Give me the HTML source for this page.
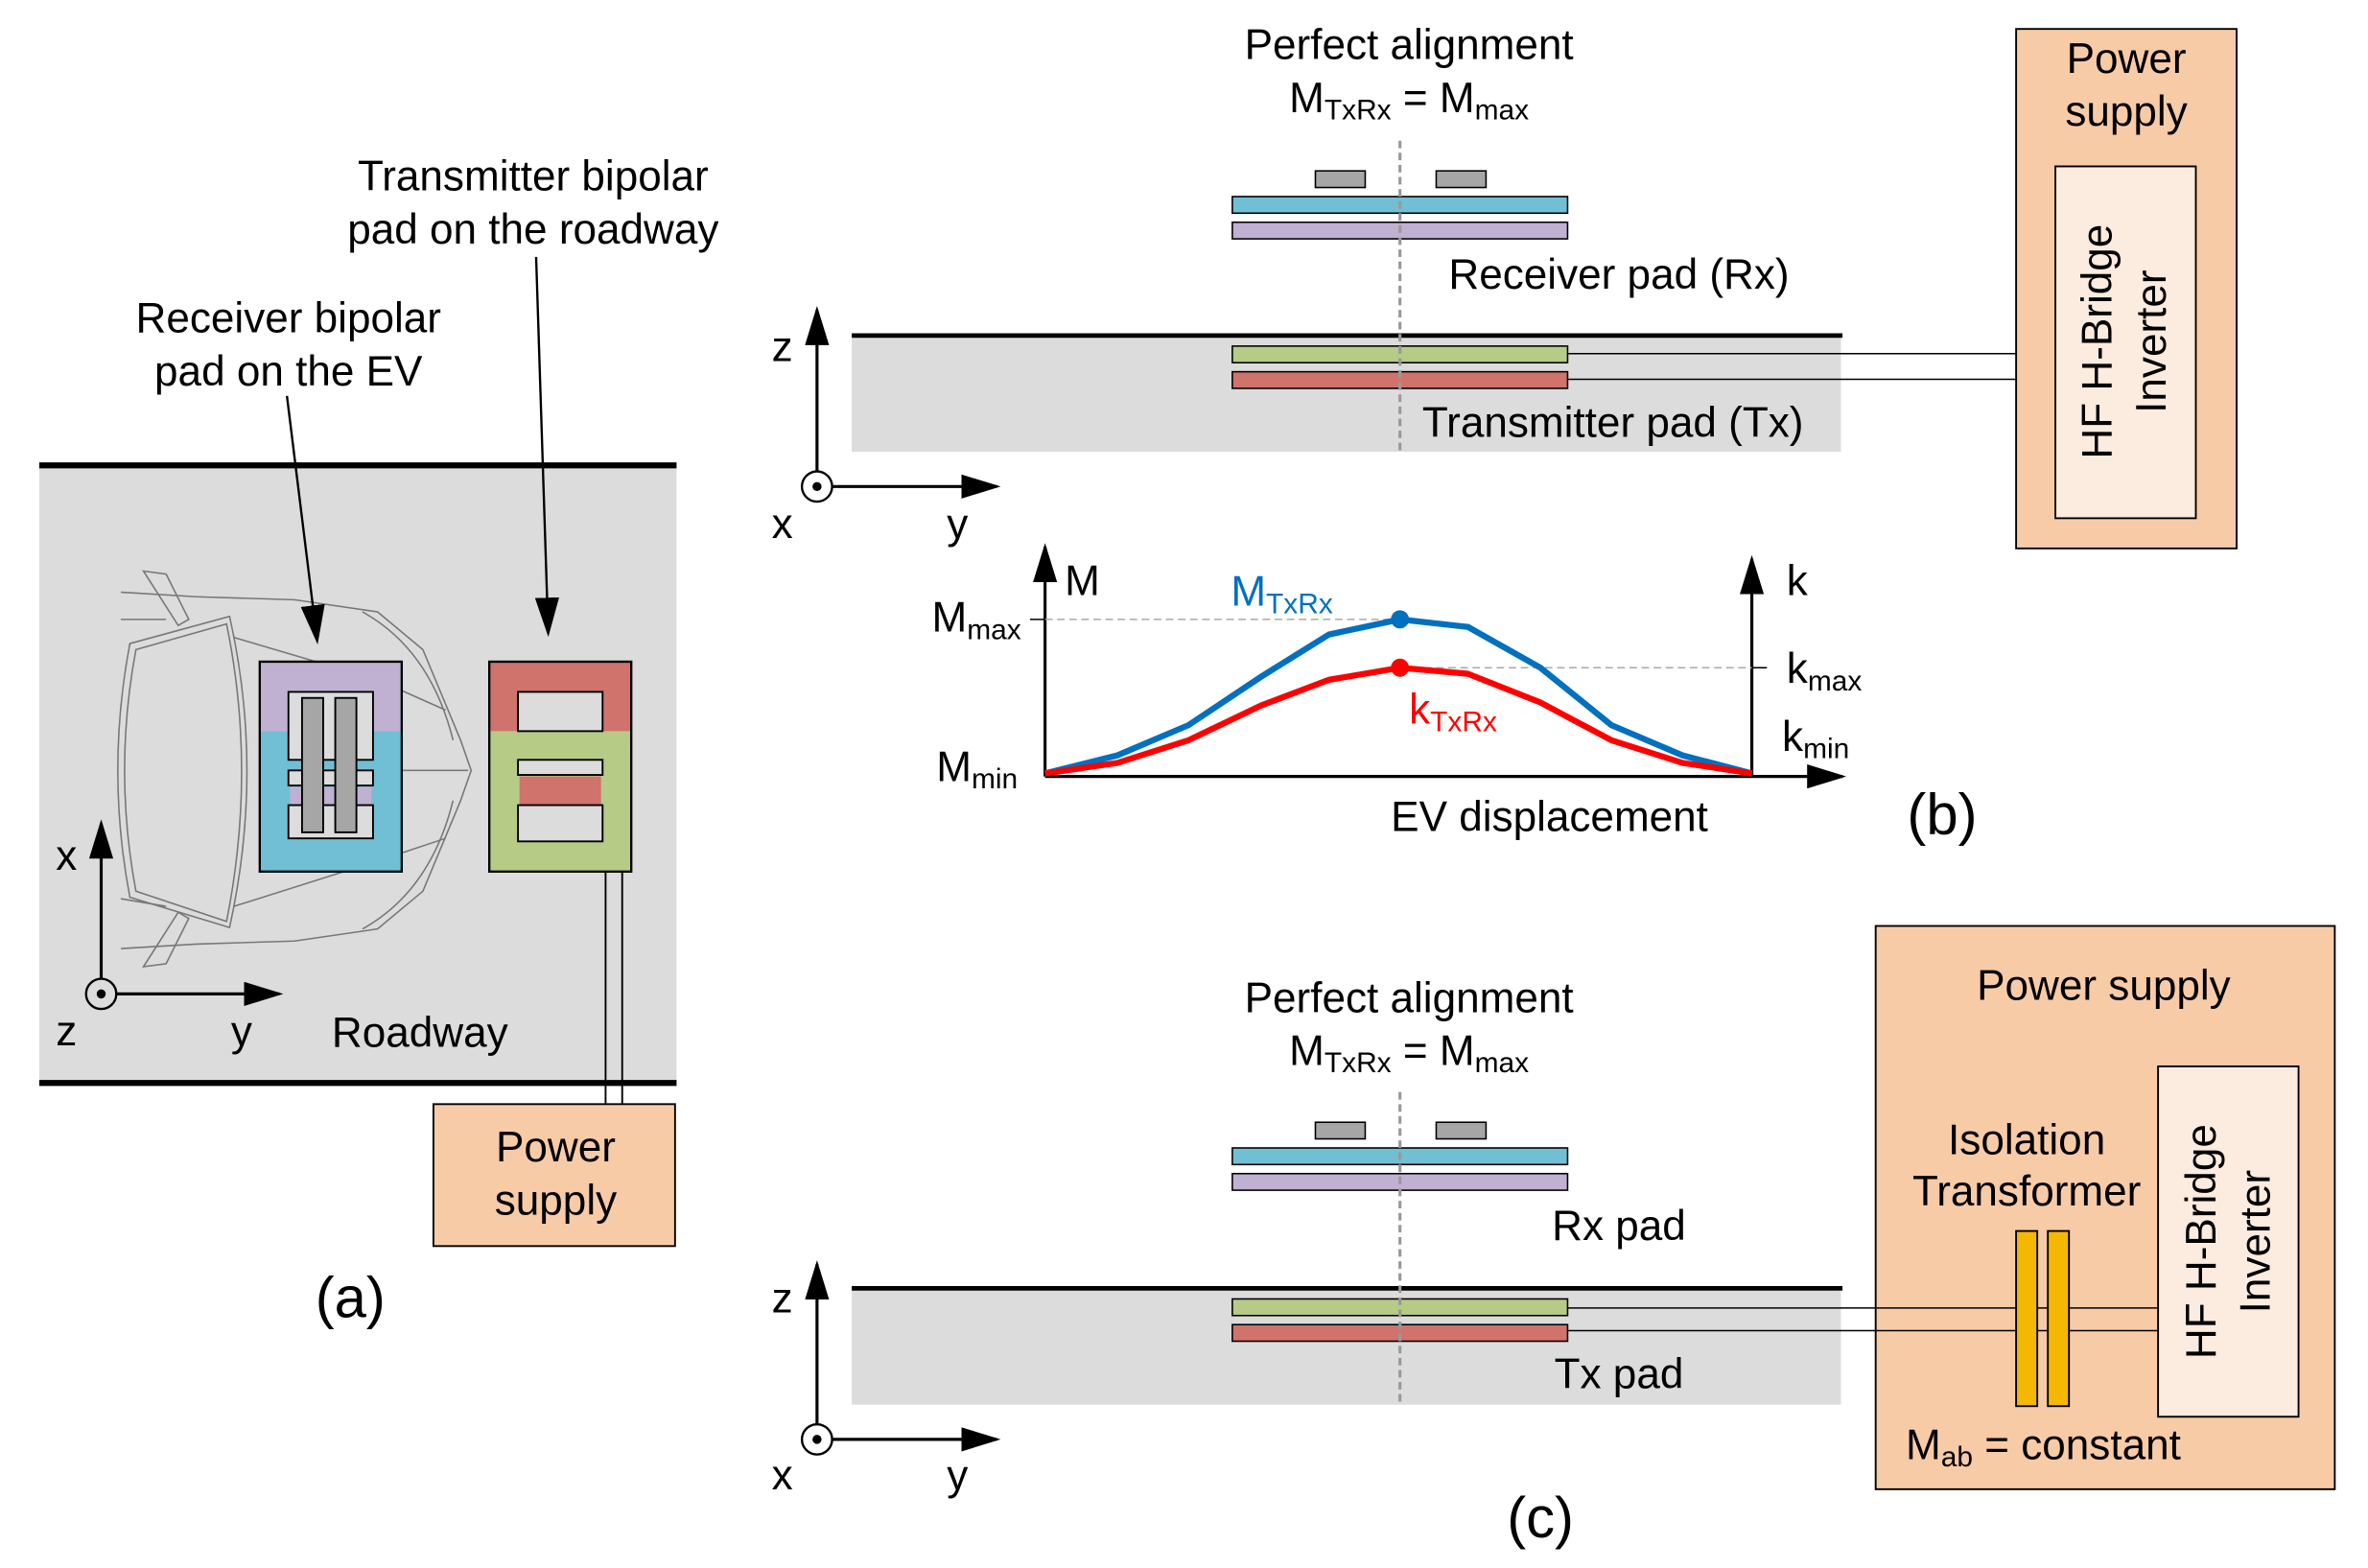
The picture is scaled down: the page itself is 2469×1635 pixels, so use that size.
<!DOCTYPE html>
<html><head><meta charset="utf-8"><style>html,body{margin:0;padding:0;background:#fff}svg{display:block}text{font-family:"Liberation Sans",sans-serif;fill:#000}</style></head><body>
<svg width="2469" height="1635" viewBox="0 0 1568 1038" xmlns="http://www.w3.org/2000/svg">
<defs>
<marker id="ab" viewBox="0 0 10 10" refX="9" refY="5" markerWidth="26" markerHeight="16" orient="auto" markerUnits="userSpaceOnUse" preserveAspectRatio="none"><path d="M0,0L10,5L0,10z"/></marker></defs>
<g font-size="28">
<!-- Panel a -->
<rect x="26" y="308" width="422" height="409" fill="#dcdcdc"/>
<line x1="26" y1="308" x2="448" y2="308" stroke="#000" stroke-width="4"/>
<line x1="26" y1="717" x2="448" y2="717" stroke="#000" stroke-width="4"/>
<g fill="none" stroke="#777" stroke-width="1">
<path d="M80,392 L130,395 L195,397 L250,405 L280,430 L305,490 L312,510 L305,530 L280,590 L250,615 L195,623 L130,625 L80,628"/>
<path d="M90,430 L150,413 Q170,510 150,610 L90,590 Q75,510 90,430Z"/>
<path d="M86,426 L152,408 Q175,510 152,614 L86,594 Q70,510 86,426Z"/>
<path d="M95,378 L110,380 L125,410 L118,414 Z M95,640 L110,638 L125,608 L118,604 Z"/>
<path d="M80,410 L110,410 M80,595 L110,600 M155,422 L250,450 L295,470 M155,600 L250,570 L295,555 M266,510 L310,510"/>
<path d="M240,405 Q285,430 300,490 M240,615 Q285,590 300,530"/>
</g>
<line x1="190" y1="262" x2="210" y2="424" stroke="#000" stroke-width="1.5" marker-end="url(#ab)"/>
<line x1="355" y1="170" x2="363" y2="419" stroke="#000" stroke-width="1.5" marker-end="url(#ab)"/>
<rect x="172" y="484" width="94" height="93" fill="#70bfd4"/>
<rect x="172" y="438" width="94" height="46" fill="#c0b0d2"/>
<rect x="172" y="438" width="94" height="139" fill="none" stroke="#000" stroke-width="1.5"/>
<rect x="191" y="458" width="56" height="45" fill="#dcdcdc" stroke="#000" stroke-width="1.2"/>
<rect x="191" y="510" width="56" height="10" fill="#dcdcdc" stroke="#000" stroke-width="1.2"/>
<rect x="192" y="521" width="54" height="12" fill="#c0b0d2"/>
<rect x="191" y="533" width="56" height="22" fill="#dcdcdc" stroke="#000" stroke-width="1.2"/>
<rect x="200" y="462" width="14" height="89" fill="#a6a6a6" stroke="#000" stroke-width="1.2"/>
<rect x="222" y="462" width="14" height="89" fill="#a6a6a6" stroke="#000" stroke-width="1.2"/>
<rect x="324" y="484" width="94" height="93" fill="#b6cb86"/>
<rect x="324" y="438" width="94" height="46" fill="#cf736c"/>
<rect x="324" y="438" width="94" height="139" fill="none" stroke="#000" stroke-width="1.5"/>
<rect x="343" y="458" width="56" height="26" fill="#dcdcdc" stroke="#000" stroke-width="1.2"/>
<rect x="343" y="503" width="56" height="10" fill="#dcdcdc" stroke="#000" stroke-width="1.2"/>
<rect x="344" y="514" width="54" height="19" fill="#cf736c"/>
<rect x="343" y="533" width="56" height="24" fill="#dcdcdc" stroke="#000" stroke-width="1.2"/>
<line x1="401" y1="577" x2="401" y2="731" stroke="#000" stroke-width="1.2"/>
<line x1="412" y1="577" x2="412" y2="731" stroke="#000" stroke-width="1.2"/>
<rect x="287" y="731" width="160" height="94" fill="#f8cba7" stroke="#000" stroke-width="1.2"/>
<text x="368" y="769" text-anchor="middle">Power</text><text x="368" y="804" text-anchor="middle">supply</text>
<circle cx="67" cy="658" r="10" fill="none" stroke="#000" stroke-width="1.5"/><circle cx="67" cy="658" r="3"/>
<line x1="67" y1="648" x2="67" y2="545" stroke="#000" stroke-width="2" marker-end="url(#ab)"/>
<line x1="77" y1="658" x2="185" y2="658" stroke="#000" stroke-width="2" marker-end="url(#ab)"/>
<text x="44" y="576" text-anchor="middle">x</text><text x="44" y="692" text-anchor="middle">z</text><text x="160" y="692" text-anchor="middle">y</text>
<text x="278" y="693" text-anchor="middle">Roadway</text>
<text x="353" y="126" text-anchor="middle">Transmitter bipolar</text><text x="353" y="161" text-anchor="middle">pad on the roadway</text>
<text x="191" y="220" text-anchor="middle">Receiver bipolar</text><text x="191" y="255" text-anchor="middle">pad on the EV</text>
<text x="232" y="872" text-anchor="middle" font-size="38">(a)</text>

<!-- Panel b -->
<text x="933" y="39" text-anchor="middle">Perfect alignment</text>
<text x="933" y="74" text-anchor="middle">M<tspan font-size="19" dy="5">TxRx</tspan><tspan dy="-5"> = M</tspan><tspan font-size="19" dy="5">max</tspan></text>
<rect x="871" y="113" width="33" height="11" fill="#a6a6a6" stroke="#000"/><rect x="951" y="113" width="33" height="11" fill="#a6a6a6" stroke="#000"/>
<rect x="816" y="130" width="222" height="11" fill="#70bfd4" stroke="#000"/><rect x="816" y="147" width="222" height="11" fill="#c0b0d2" stroke="#000"/>
<text x="1072" y="191" text-anchor="middle">Receiver pad (Rx)</text>
<rect x="564" y="222" width="655" height="77" fill="#dcdcdc"/>
<line x1="564" y1="222" x2="1220" y2="222" stroke="#000" stroke-width="3"/>
<rect x="816" y="229" width="222" height="11" fill="#b6cb86" stroke="#000"/><rect x="816" y="246" width="222" height="11" fill="#cf736c" stroke="#000"/>
<line x1="1038" y1="234" x2="1361" y2="234" stroke="#000"/><line x1="1038" y1="251" x2="1361" y2="251" stroke="#000"/>
<text x="1068" y="289" text-anchor="middle">Transmitter pad (Tx)</text>
<line x1="927" y1="93" x2="927" y2="299" stroke="#999" stroke-width="2" stroke-dasharray="5,3"/>
<circle cx="541" cy="322" r="10" fill="none" stroke="#000" stroke-width="1.5"/><circle cx="541" cy="322" r="3"/>
<line x1="541" y1="312" x2="541" y2="205" stroke="#000" stroke-width="2" marker-end="url(#ab)"/>
<line x1="551" y1="322" x2="660" y2="322" stroke="#000" stroke-width="2" marker-end="url(#ab)"/>
<text x="518" y="239" text-anchor="middle">z</text><text x="518" y="356" text-anchor="middle">x</text><text x="634" y="356" text-anchor="middle">y</text>
<rect x="1335" y="19" width="146" height="344" fill="#f8cba7" stroke="#000" stroke-width="1.2"/>
<rect x="1361" y="110" width="93" height="233" fill="#fcebdf" stroke="#000" stroke-width="1.2"/>
<text x="1408" y="48" text-anchor="middle">Power</text><text x="1408" y="83" text-anchor="middle">supply</text>
<text transform="translate(1398,226) rotate(-90)" text-anchor="middle">HF H-Bridge</text>
<text transform="translate(1434,226) rotate(-90)" text-anchor="middle">Inverter</text>
<!-- graph -->
<line x1="692" y1="514" x2="692" y2="362" stroke="#000" stroke-width="2" marker-end="url(#ab)"/>
<line x1="692" y1="514" x2="1220" y2="514" stroke="#000" stroke-width="2" marker-end="url(#ab)"/>
<line x1="1160" y1="514" x2="1160" y2="370" stroke="#000" stroke-width="2" marker-end="url(#ab)"/>
<line x1="692" y1="410" x2="927" y2="410" stroke="#aaa" stroke-dasharray="5,3"/>
<line x1="927" y1="442" x2="1160" y2="442" stroke="#aaa" stroke-dasharray="5,3"/>
<line x1="682" y1="410" x2="692" y2="410" stroke="#000"/><line x1="1160" y1="442" x2="1170" y2="442" stroke="#000"/>
<polyline points="692,512 740,500 787,480 835,448 880,420 927,410 972,415 1020,442 1067,480 1114,500 1160,512" fill="none" stroke="#0070c0" stroke-width="4"/>
<polyline points="692,512 740,505 787,490 835,467 880,450 927,442 972,446 1020,465 1067,490 1114,505 1160,512" fill="none" stroke="#ff0000" stroke-width="4"/>
<circle cx="927" cy="410" r="6" fill="#0070c0"/><circle cx="927" cy="442" r="6" fill="#ff0000"/>
<text x="705" y="394">M</text>
<text x="617" y="418">M<tspan font-size="19" dy="5">max</tspan></text>
<text x="620" y="517">M<tspan font-size="19" dy="5">min</tspan></text>
<text x="1183" y="394">k</text>
<text x="1183" y="452">k<tspan font-size="19" dy="5">max</tspan></text>
<text x="1180" y="497">k<tspan font-size="19" dy="5">min</tspan></text>
<text x="815" y="401" style="fill:#0070c0">M<tspan font-size="19" dy="5" style="fill:#0070c0">TxRx</tspan></text>
<text x="933" y="479" style="fill:#ff0000">k<tspan font-size="19" dy="5" style="fill:#ff0000">TxRx</tspan></text>
<text x="1026" y="550" text-anchor="middle">EV displacement</text>
<text x="1286" y="552" text-anchor="middle" font-size="38">(b)</text>

<!-- Panel c -->
<text x="933" y="670" text-anchor="middle">Perfect alignment</text>
<text x="933" y="705" text-anchor="middle">M<tspan font-size="19" dy="5">TxRx</tspan><tspan dy="-5"> = M</tspan><tspan font-size="19" dy="5">max</tspan></text>
<rect x="871" y="743" width="33" height="11" fill="#a6a6a6" stroke="#000"/><rect x="951" y="743" width="33" height="11" fill="#a6a6a6" stroke="#000"/>
<rect x="816" y="760" width="222" height="11" fill="#70bfd4" stroke="#000"/><rect x="816" y="777" width="222" height="11" fill="#c0b0d2" stroke="#000"/>
<text x="1072" y="821" text-anchor="middle">Rx pad</text>
<rect x="564" y="853" width="655" height="77" fill="#dcdcdc"/>
<line x1="564" y1="853" x2="1220" y2="853" stroke="#000" stroke-width="3"/>
<rect x="816" y="860" width="222" height="11" fill="#b6cb86" stroke="#000"/><rect x="816" y="877" width="222" height="11" fill="#cf736c" stroke="#000"/>
<text x="1072" y="919" text-anchor="middle">Tx pad</text>
<line x1="927" y1="723" x2="927" y2="930" stroke="#999" stroke-width="2" stroke-dasharray="5,3"/>
<circle cx="541" cy="953" r="10" fill="none" stroke="#000" stroke-width="1.5"/><circle cx="541" cy="953" r="3"/>
<line x1="541" y1="943" x2="541" y2="837" stroke="#000" stroke-width="2" marker-end="url(#ab)"/>
<line x1="551" y1="953" x2="660" y2="953" stroke="#000" stroke-width="2" marker-end="url(#ab)"/>
<text x="518" y="869" text-anchor="middle">z</text><text x="518" y="986" text-anchor="middle">x</text><text x="634" y="986" text-anchor="middle">y</text>
<text x="1020" y="1018" text-anchor="middle" font-size="38">(c)</text>
<rect x="1242" y="613" width="304" height="373" fill="#f8cba7" stroke="#000" stroke-width="1.2"/>
<text x="1393" y="662" text-anchor="middle">Power supply</text>
<text x="1342" y="764" text-anchor="middle">Isolation</text><text x="1342" y="798" text-anchor="middle">Transformer</text>
<rect x="1429" y="706" width="93" height="232" fill="#fcebdf" stroke="#000" stroke-width="1.2"/>
<text transform="translate(1467,822) rotate(-90)" text-anchor="middle">HF H-Bridge</text>
<text transform="translate(1503,822) rotate(-90)" text-anchor="middle">Inverter</text>
<line x1="1038" y1="866" x2="1429" y2="866" stroke="#000"/><line x1="1038" y1="881" x2="1429" y2="881" stroke="#000"/>
<rect x="1335" y="815" width="14" height="116" fill="#f5b800" stroke="#000" stroke-width="1.2"/>
<rect x="1356" y="815" width="14" height="116" fill="#f5b800" stroke="#000" stroke-width="1.2"/>
<text x="1353" y="966" text-anchor="middle">M<tspan font-size="19" dy="5">ab</tspan><tspan dy="-5"> = constant</tspan></text>
</g>
</svg>
</body></html>
